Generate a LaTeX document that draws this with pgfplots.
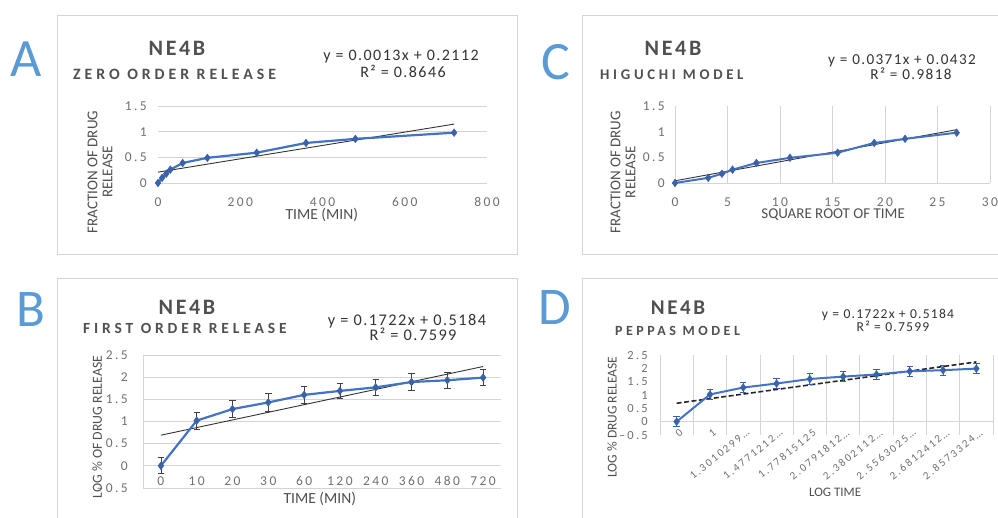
\documentclass[border=0pt]{standalone}
\usepackage{pgfplots}
\pgfplotsset{compat=1.18}
\usepackage{fontspec}
\setmainfont{Carlito}
\newfontfamily\trk[LetterSpace=18]{Carlito}
\newfontfamily\ttl[LetterSpace=12]{Carlito}
\newfontfamily\sub[LetterSpace=25]{Carlito}
\newfontfamily\eqf[LetterSpace=9]{Carlito}
\definecolor{txt}{HTML}{505050}
\definecolor{tck}{HTML}{707070}
\definecolor{grd}{HTML}{D4D4D4}
\definecolor{serblue}{HTML}{4472C4}
\definecolor{mk}{HTML}{3A62A8}
\definecolor{let}{HTML}{5B9BD5}
\definecolor{eqc}{HTML}{333333}
\newcommand{\fs}[1]{\fontsize{#1}{#1}\selectfont}

\pgfplotsset{
  panel/.style={
    scale only axis, anchor=south west,
    axis line style={draw=none},
    major tick length=0pt, minor tick length=0pt,
    /pgf/number format/assume math mode=true,
    grid style={grd, line width=0.8pt},
    tick label style={tck},
    label style={txt},
    clip=false,
  },
  series/.style={serblue, line width=2.2pt, mark=diamond*, mark size=3.8pt, mark options={fill=mk, draw=mk, line width=0.5pt}},
}

\begin{document}
\begin{tikzpicture}
\useasboundingbox (0,0) rectangle (998pt,518pt);
\clip (0,0) rectangle (998pt,518pt);
\fill[white] (0,0) rectangle (998pt,518pt);

% frames
\draw[grd, line width=0.9pt] (57pt,503pt) rectangle (517pt,264pt);
\draw[grd, line width=0.9pt] (582pt,503pt) rectangle (1010pt,264pt);
\draw[grd, line width=0.9pt] (57pt,239.5pt) rectangle (517pt,-10pt);
\draw[grd, line width=0.9pt] (582pt,239.5pt) rectangle (1010pt,-10pt);

% panel letters
\node[let, anchor=base, inner sep=0pt, font=\fs{54}] at (26.5pt,441pt) {A};
\node[let, anchor=base, inner sep=0pt, font=\fs{53}] at (31pt,191pt) {B};
\node[let, anchor=base, inner sep=0pt, font=\fs{54}] at (556pt,438pt) {C};
\node[let, anchor=base, inner sep=0pt, font=\fs{53}] at (555pt,193pt) {D};

% ---------- A ----------
\node[txt, font=\ttl\bfseries\fs{22}, inner sep=0pt] at (177pt,469.5pt) {NE4B};
\node[txt, font=\sub\bfseries\fs{15.8}, inner sep=0pt, anchor=west] at (73pt,444pt) {ZERO ORDER RELEASE};
\node[eqc, font=\eqf\fs{16}, inner sep=0pt] at (401pt,461pt) {y = 0.0013x + 0.2112};
\node[eqc, font=\eqf\fs{16}, inner sep=0pt] at (403pt,447pt) {R² = 0.8646};
\begin{axis}[panel, at={(158pt,335pt)}, width=329pt, height=77pt,
  xmin=0, xmax=800, ymin=0, ymax=1.5,
  xtick={0,200,...,800}, ytick={0,0.5,1,1.5}, ymajorgrids,
  xticklabel style={font=\trk\fs{13.5}, anchor=center, yshift=-19pt},
  yticklabel style={font=\trk\fs{13.5}, anchor=east, inner sep=0pt, xshift=-11pt},
  xlabel={TIME (MIN)}, xlabel style={font=\fs{15.5}, at={(axis description cs:0.498,-0.416)}, anchor=center},
  ylabel={FRACTION OF DRUG\\RELEASE}, ylabel style={font=\fs{15}, align=center, at={(axis description cs:-0.176,0.143)}, anchor=center}]
\addplot[eqc, line width=0.9pt] coordinates {(0,0.2112) (720,1.1472)};
\addplot[series] coordinates {(0,0) (10,0.10) (20,0.18) (30,0.26) (60,0.39) (120,0.49) (240,0.59) (360,0.78) (480,0.86) (720,0.98)};
\end{axis}

% ---------- C ----------
\node[txt, font=\ttl\bfseries\fs{22}, inner sep=0pt] at (673pt,469.5pt) {NE4B};
\node[txt, font=\sub\bfseries\fs{14.8}, inner sep=0pt, anchor=west] at (600pt,443pt) {HIGUCHI MODEL};
\node[eqc, font=\eqf\fs{15.2}, inner sep=0pt] at (902pt,457pt) {y = 0.0371x + 0.0432};
\node[eqc, font=\eqf\fs{15.2}, inner sep=0pt] at (911pt,444pt) {R² = 0.9818};
\begin{axis}[panel, at={(675pt,335pt)}, width=315pt, height=77pt,
  xmin=0, xmax=30, ymin=0, ymax=1.5,
  xtick={0,5,...,30}, ytick={0,0.5,1,1.5}, xmajorgrids,
  extra y ticks={0}, extra y tick labels={}, extra y tick style={ymajorgrids=true, xmajorgrids=false},
  xticklabel style={font=\trk\fs{13.5}, anchor=center, yshift=-19pt},
  yticklabel style={font=\trk\fs{13.5}, anchor=east, inner sep=0pt, xshift=-10pt},
  xlabel={SQUARE ROOT OF TIME}, xlabel style={font=\fs{15}, at={(axis description cs:0.502,-0.416)}, anchor=center},
  ylabel={FRACTION OF DRUG\\RELEASE}, ylabel style={font=\fs{15}, align=center, at={(axis description cs:-0.165,0.14)}, anchor=center}]
\addplot[eqc, line width=0.9pt] coordinates {(0,0.0432) (26.83,1.0386)};
\addplot[series, line width=2pt] coordinates {(0,0) (3.16,0.10) (4.47,0.18) (5.48,0.26) (7.75,0.39) (10.95,0.49) (15.49,0.59) (18.97,0.78) (21.91,0.86) (26.83,0.98)};
\end{axis}

% ---------- B ----------
\node[txt, font=\ttl\bfseries\fs{22}, inner sep=0pt] at (187pt,211pt) {NE4B};
\node[txt, font=\sub\bfseries\fs{15.5}, inner sep=0pt, anchor=west] at (83pt,190pt) {FIRST ORDER RELEASE};
\node[eqc, font=\eqf\fs{16.3}, inner sep=0pt] at (407pt,197pt) {y = 0.1722x + 0.5184};
\node[eqc, font=\eqf\fs{16.3}, inner sep=0pt] at (413pt,184pt) {R² = 0.7599};
\begin{axis}[panel, at={(143pt,30pt)}, width=358pt, height=133pt,
  xmin=0.5, xmax=10.5, ymin=-0.5, ymax=2.5,
  xtick={1,...,10}, xticklabels={0,10,20,30,60,120,240,360,480,720},
  ytick={-0.5,0,0.5,1,1.5,2,2.5}, yticklabels={\textendash0.5,0,0.5,1,1.5,2,2.5}, ymajorgrids,
  extra x ticks={0.5}, extra x tick labels={}, extra x tick style={xmajorgrids=true, ymajorgrids=false},
  xticklabel style={font=\trk\fs{13.5}, anchor=center, yshift=7pt},
  yticklabel style={font=\trk\fs{13.5}, anchor=east, inner sep=0pt, xshift=-15pt},
  xlabel={TIME (MIN)}, xlabel style={font=\fs{15.5}, at={(axis description cs:0.494,-0.083)}, anchor=center},
  ylabel={LOG \% OF DRUG RELEASE}, ylabel style={font=\fs{13.8}, at={(axis description cs:-0.128,0.459)}, anchor=center}]
\addplot[eqc, line width=0.9pt] coordinates {(1,0.6906) (10,2.2404)};
\addplot[series, error bars/.cd, y dir=both, y explicit,
  error bar style={black!75, line width=0.8pt},
  error mark options={rotate=90, mark size=3.2pt, black!75, line width=0.8pt}]
  coordinates {(1,0) +- (0,0.18) (2,1.02) +- (0,0.19) (3,1.28) +- (0,0.19) (4,1.43) +- (0,0.2) (5,1.6) +- (0,0.2)
   (6,1.69) +- (0,0.18) (7,1.77) +- (0,0.18) (8,1.89) +- (0,0.19) (9,1.93) +- (0,0.18) (10,1.99) +- (0,0.18)};
\end{axis}

% ---------- D ----------
\node[txt, font=\ttl\bfseries\fs{21}, inner sep=0pt] at (678pt,210pt) {NE4B};
\node[txt, font=\sub\bfseries\fs{14}, inner sep=0pt, anchor=west] at (615pt,187pt) {PEPPAS MODEL};
\node[eqc, font=\eqf\fs{13.6}, inner sep=0pt] at (888pt,203pt) {y = 0.1722x + 0.5184};
\node[eqc, font=\eqf\fs{13.6}, inner sep=0pt] at (893pt,192pt) {R² = 0.7599};
\begin{axis}[panel, at={(660pt,83pt)}, width=333pt, height=80pt,
  xmin=0.5, xmax=10.5, ymin=-0.5, ymax=2.5,
  xtick={1,...,10}, xticklabels={0,1,1.3010299…,1.4771212…,1.77815125,2.0791812…,2.3802112…,2.5563025…,2.6812412…,2.8573324…},
  minor xtick={0.5,1.5,...,10.5}, xminorgrids, minor grid style={grd, line width=0.8pt},
  ytick={-0.5,0,0.5,1,1.5,2,2.5}, yticklabels={\textendash0.5,0,0.5,1,1.5,2,2.5},
  extra y ticks={0}, extra y tick labels={}, extra y tick style={ymajorgrids=true},
  xticklabel style={font=\trk\fs{11}, rotate=39, anchor=east, inner sep=0pt, xshift=6pt, yshift=0pt},
  yticklabel style={font=\trk\fs{12.5}, anchor=east, inner sep=0pt, xshift=-12pt},
  xlabel={LOG TIME}, xlabel style={font=\fs{13}, at={(axis description cs:0.526,-0.72)}, anchor=center},
  ylabel={LOG \% DRUG RELEASE}, ylabel style={font=\fs{13.5}, at={(axis description cs:-0.144,0.225)}, anchor=center}]
\addplot[black!85, line width=1.6pt, dash pattern=on 5pt off 2.5pt] coordinates {(1,0.6906) (10,2.2404)};
\addplot[series, line width=2pt, error bars/.cd, y dir=both, y explicit,
  error bar style={mk, line width=0.9pt},
  error mark options={rotate=90, mark size=3.2pt, mk, line width=0.9pt}]
  coordinates {(1,0) +- (0,0.18) (2,1.02) +- (0,0.19) (3,1.28) +- (0,0.19) (4,1.43) +- (0,0.2) (5,1.6) +- (0,0.2)
   (6,1.69) +- (0,0.18) (7,1.77) +- (0,0.18) (8,1.89) +- (0,0.19) (9,1.93) +- (0,0.18) (10,1.99) +- (0,0.18)};
\end{axis}
\end{tikzpicture}
\end{document}
